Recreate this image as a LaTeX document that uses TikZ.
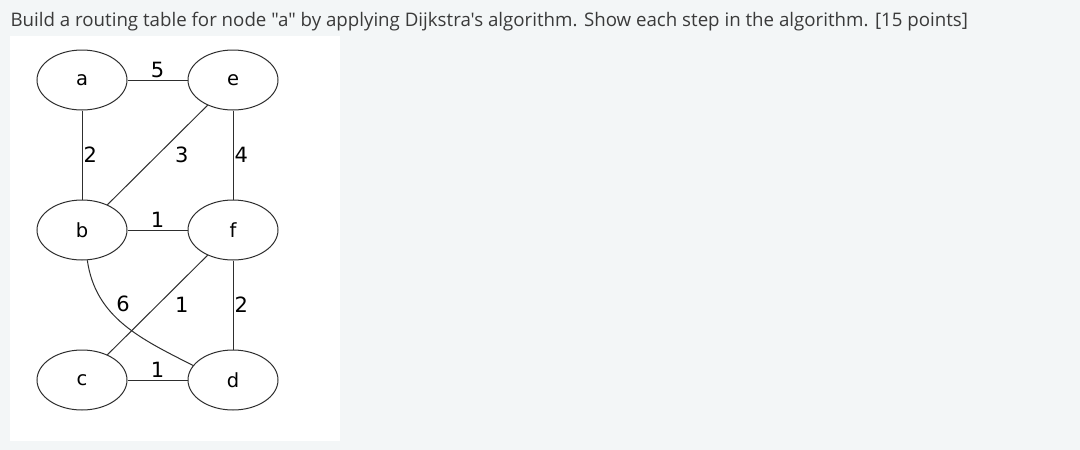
\documentclass[tikz,border=0pt]{standalone}
\usepackage{fontspec}
\newfontfamily\titlefont{Open Sans}
\newfontfamily\graphfont{DejaVu Sans}
\usetikzlibrary{positioning, arrows, shapes}
\definecolor{pagebg}{HTML}{F3F6F7}
\definecolor{inktext}{HTML}{3A3A3A}
\definecolor{inkline}{HTML}{2E2E2E}
\tikzset{node distance=151pt,
    vertex/.style={ellipse, draw=inkline, line width=1pt, minimum width=90pt, minimum height=60pt, inner sep=0pt, font=\graphfont\fontsize{19.5}{20}\selectfont},
    weight/.style={font=\graphfont\fontsize{21}{21}\selectfont, inner sep=2pt}}

\begin{document}
\begin{tikzpicture}[x=1pt, y=1pt, line width=1pt, draw=inkline]
        \fill[pagebg] (0,0) rectangle (1080,-450);
        \useasboundingbox (0,0) rectangle (1080,-450);
        \fill[white] (10,-36) rectangle (340,-441);
        \node[anchor=west, text=inktext, font=\titlefont\fontsize{18.7}{20}\selectfont, inner sep=0pt] (title) at (10,-22)
            {Build a routing table for node "a" by applying Dijkstra's algorithm. Show each step in the algorithm. [15 points]};
        \node[vertex] (a) at (82,-80) {a};
        \node[vertex, right of=a] (e) {e};
        \node[vertex, below of=a, node distance=150pt] (b) {b};
        \node[vertex, right of=b] (f) {f};
        \node[vertex, below of=b, node distance=150pt] (c) {c};
        \node[vertex, right of=c] (d) {d};
        \draw (a) edge node[weight, above] {5} (e)
            (a) edge node[weight, right, inner sep=1pt] {2} (b)
            (e) edge node[weight, right, xshift=15pt] {3} (b)
            (e) edge node[weight, right, inner sep=1pt] {4} (f)
            (b) edge node[weight, above] {1} (f)
            (b.-80) edge[out=-82, in=153] node[weight, pos=0.3, right, xshift=10pt] {6} (d.160)
            (f) edge node[weight, right, xshift=15pt] {1} (c)
            (f) edge node[weight, right, inner sep=1pt] {2} (d)
            (c) edge node[weight, above] {1} (d);
    \end{tikzpicture}
\end{document}
